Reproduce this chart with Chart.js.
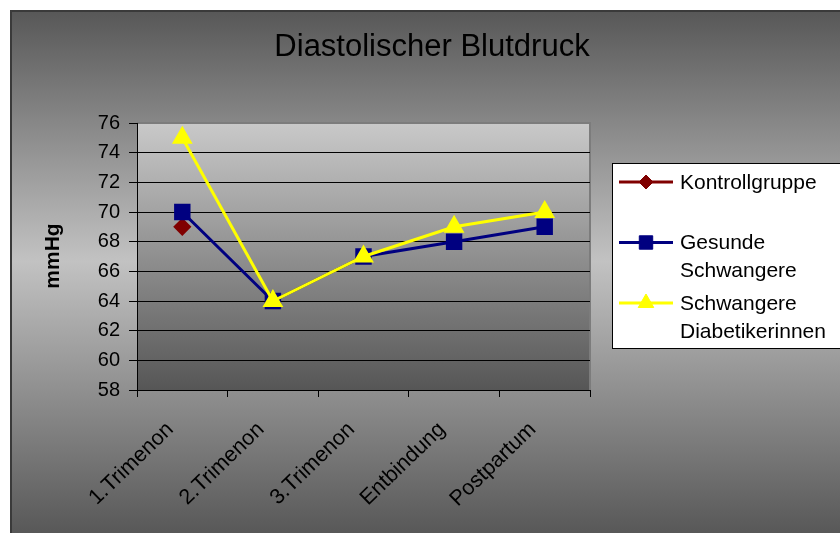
<!DOCTYPE html>
<html lang="de">
<head>
<meta charset="utf-8">
<title>Diastolischer Blutdruck</title>
<script src="https://cdn.jsdelivr.net/npm/chart.js@4/dist/chart.umd.min.js"></script>
<style>
  html, body { margin: 0; padding: 0; background: #fff; }
  #wrap { width: 840px; height: 533px; }
</style>
</head>
<body>
<div id="wrap"><canvas id="chart" width="840" height="533"></canvas></div>
<script>
// Messzeitpunkte
const categories = ['1.Trimenon', '2.Trimenon', '3.Trimenon', 'Entbindung', 'Postpartum'];

// Mittlerer diastolischer Blutdruck (mmHg) je Gruppe
const kontrollgruppe = [69, null, null, null, null];
const gesundeSchwangere = [70, 64, 67, 68, 69];
const diabetikerinnen = [75, 64, 67, 69, 70];

const seriesNames = ['Kontrollgruppe', 'Gesunde Schwangere', 'Schwangere Diabetikerinnen'];

// Y-Achse
const yMin = 58;
const yMax = 76;
const yStep = 2;

const chartTitle = 'Diastolischer Blutdruck';
const yTitle = 'mmHg';

const FONT = '"Liberation Sans", Arial, sans-serif';

// Hintergründe: Rahmen mit Verlauf, Zeichenfläche mit Verlauf
const backgroundPlugin = {
  id: 'backgrounds',
  beforeDraw(chart) {
    const { ctx, chartArea: a, width, height } = chart;
    ctx.save();
    ctx.fillStyle = '#ffffff';
    ctx.fillRect(0, 0, width, height);

    const g = ctx.createLinearGradient(0, 10, 0, height);
    g.addColorStop(0, '#575757');
    g.addColorStop(0.48, '#c2c2c2');
    g.addColorStop(1, '#585858');
    ctx.fillStyle = g;
    ctx.fillRect(10, 10, width - 10, height - 10);

    ctx.strokeStyle = '#3a3a3a';
    ctx.lineWidth = 2;
    ctx.beginPath();
    ctx.moveTo(11, height);
    ctx.lineTo(11, 11);
    ctx.lineTo(width, 11);
    ctx.stroke();

    const pg = ctx.createLinearGradient(0, a.top, 0, a.bottom);
    pg.addColorStop(0, '#c9c9c9');
    pg.addColorStop(1, '#565656');
    ctx.fillStyle = pg;
    ctx.fillRect(a.left, a.top, a.right - a.left, a.bottom - a.top);

    ctx.strokeStyle = '#7c7c7c';
    ctx.lineWidth = 2;
    ctx.beginPath();
    ctx.moveTo(a.left, a.top);
    ctx.lineTo(a.right, a.top);
    ctx.lineTo(a.right, a.bottom);
    ctx.stroke();
    ctx.restore();
  }
};

// Titel, Achsentitel und Legende
function drawMarker(ctx, style, x, y, r, fill, stroke) {
  ctx.save();
  ctx.fillStyle = fill;
  ctx.strokeStyle = stroke;
  ctx.lineWidth = 1;
  ctx.beginPath();
  if (style === 'rect') {
    const s = r * Math.SQRT1_2;
    ctx.rect(x - s, y - s, 2 * s, 2 * s);
  } else if (style === 'rectRot') {
    ctx.moveTo(x, y - r);
    ctx.lineTo(x + r, y);
    ctx.lineTo(x, y + r);
    ctx.lineTo(x - r, y);
    ctx.closePath();
  } else if (style === 'triangle') {
    let rad = 0;
    ctx.moveTo(x + Math.sin(rad) * r, y - Math.cos(rad) * r);
    rad += 2 * Math.PI / 3;
    ctx.lineTo(x + Math.sin(rad) * r, y - Math.cos(rad) * r);
    rad += 2 * Math.PI / 3;
    ctx.lineTo(x + Math.sin(rad) * r, y - Math.cos(rad) * r);
    ctx.closePath();
  }
  ctx.fill();
  ctx.stroke();
  ctx.restore();
}

function wrapText(ctx, text, maxWidth) {
  const words = text.split(' ');
  const lines = [];
  let line = '';
  words.forEach(w => {
    const test = line ? line + ' ' + w : w;
    if (line && ctx.measureText(test).width > maxWidth) {
      lines.push(line);
      line = w;
    } else {
      line = test;
    }
  });
  if (line) lines.push(line);
  return lines;
}

const annotationPlugin = {
  id: 'annotations',
  afterDraw(chart) {
    const { ctx } = chart;
    ctx.save();
    // Titel
    ctx.fillStyle = '#000';
    ctx.font = '31px ' + FONT;
    ctx.textAlign = 'center';
    ctx.textBaseline = 'middle';
    ctx.fillText(chartTitle, 432, 47);

    // Y-Achsentitel
    ctx.save();
    ctx.translate(53, 256);
    ctx.rotate(-Math.PI / 2);
    ctx.font = 'bold 21px ' + FONT;
    ctx.fillText(yTitle, 0, 0);
    ctx.restore();

    // Legende
    const bx = 612.5, by = 163.5, bw = 240, bh = 185;
    ctx.fillStyle = '#ffffff';
    ctx.fillRect(bx, by, bw, bh);
    ctx.strokeStyle = '#000';
    ctx.lineWidth = 1;
    ctx.strokeRect(bx, by, bw, bh);

    ctx.font = '21px ' + FONT;
    ctx.textAlign = 'left';
    ctx.textBaseline = 'middle';
    chart.data.datasets.forEach((ds, i) => {
      const y = 182 + i * 60.5;
      ctx.strokeStyle = ds.borderColor;
      ctx.lineWidth = 3;
      ctx.beginPath();
      ctx.moveTo(619, y);
      ctx.lineTo(673, y);
      ctx.stroke();
      drawMarker(ctx, ds.pointStyle, 646, y, ds.pointRadius, ds.pointBackgroundColor, ds.borderColor);
      ctx.fillStyle = '#000';
      const lines = wrapText(ctx, ds.label, 155);
      lines.forEach((ln, k) => ctx.fillText(ln, 680, y + 1 + k * 28));
    });
    ctx.restore();
  }
};

const datasets = [
  {
    label: seriesNames[0],
    data: kontrollgruppe,
    borderColor: '#800000',
    backgroundColor: '#800000',
    pointBackgroundColor: '#800000',
    pointStyle: 'rectRot',
    pointRadius: 7,
    borderWidth: 3,
    order: 3
  },
  {
    label: seriesNames[1],
    data: gesundeSchwangere,
    borderColor: '#000080',
    backgroundColor: '#000080',
    pointBackgroundColor: '#000080',
    pointStyle: 'rect',
    pointRadius: 9.5,
    borderWidth: 3,
    order: 2
  },
  {
    label: seriesNames[2],
    data: diabetikerinnen,
    borderColor: '#ffff00',
    backgroundColor: '#ffff00',
    pointBackgroundColor: '#ffff00',
    pointStyle: 'triangle',
    pointRadius: 9,
    borderWidth: 3,
    order: 1
  }
];

new Chart(document.getElementById('chart'), {
  type: 'line',
  data: { labels: categories, datasets },
  plugins: [backgroundPlugin, annotationPlugin],
  options: {
    responsive: false,
    animation: false,
    layout: { padding: { left: 0, top: 123, right: 250, bottom: 0 } },
    elements: {
      line: { tension: 0, fill: false },
      point: { borderWidth: 1, hoverRadius: 9 }
    },
    plugins: {
      legend: { display: false },
      title: { display: false },
      tooltip: { enabled: false }
    },
    scales: {
      x: {
        type: 'category',
        offset: true,
        afterFit(scale) { scale.height = 143; },
        grid: {
          offset: true,
          drawOnChartArea: false,
          drawTicks: true,
          tickLength: 7,
          tickColor: '#000'
        },
        border: { display: true, color: '#000', width: 1 },
        ticks: {
          minRotation: 44,
          maxRotation: 44,
          padding: 20,
          labelOffset: -12,
          color: '#000',
          font: { family: FONT, size: 21.5 }
        }
      },
      y: {
        min: yMin,
        max: yMax,
        afterFit(scale) { scale.width = 137; },
        grid: {
          color: ctx => (ctx.tick && ctx.tick.value === yMax) ? 'rgba(0,0,0,0)' : '#000',
          tickColor: '#000',
          tickLength: 8,
          lineWidth: 1
        },
        border: { display: true, color: '#000', width: 1 },
        ticks: {
          stepSize: yStep,
          padding: 9,
          color: '#000',
          font: { family: FONT, size: 20 }
        }
      }
    }
  }
});
</script>
</body>
</html>
